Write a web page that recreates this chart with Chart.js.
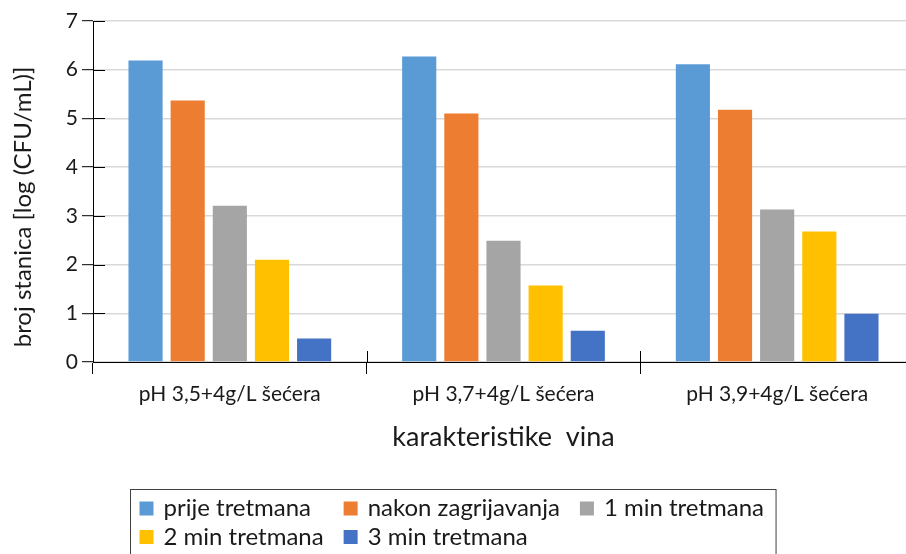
<!DOCTYPE html>
<html>
<head>
<meta charset="utf-8">
<script src="https://cdn.jsdelivr.net/npm/chart.js@4"></script>
<style>
  html, body { margin: 0; padding: 0; background: #fff; overflow: hidden; }
  #wrap { position: relative; width: 920px; height: 554px; }
</style>
</head>
<body>
<div id="wrap"><canvas id="chart"></canvas></div>
<script>
const categories = ["pH 3,5+4g/L šećera", "pH 3,7+4g/L šećera", "pH 3,9+4g/L šećera"];
const seriesNames = ["prije tretmana", "nakon zagrijavanja", "1 min tretmana", "2 min tretmana", "3 min tretmana"];
const prijeTretmana = [6.19, 6.27, 6.11];
const nakonZagrijavanja = [5.37, 5.10, 5.18];
const min1Tretmana = [3.21, 2.49, 3.13];
const min2Tretmana = [2.10, 1.57, 2.68];
const min3Tretmana = [0.48, 0.64, 0.99];
const yTicks = [0, 1, 2, 3, 4, 5, 6, 7];
const xTitle = "karakteristike  vina";
const yTitle = "broj stanica [log (CFU/mL)]";

const colors = ["#5B9BD5", "#ED7D31", "#A5A5A5", "#FFC000", "#4472C4"];
const values = [prijeTretmana, nakonZagrijavanja, min1Tretmana, min2Tretmana, min3Tretmana];
const FONT = "Lato";
const TEXT = "#1a1a1a";

// tick marks that cross the axis line (Excel style) + the y title
const crossTicks = {
  id: "crossTicks",
  afterDraw(chart) {
    const ctx = chart.ctx;
    const x = chart.scales.x, y = chart.scales.y;
    ctx.save();
    ctx.strokeStyle = "#000";
    ctx.lineWidth = 1;
    ctx.beginPath();
    y.ticks.forEach((t, i) => {
      const py = Math.round(y.getPixelForTick(i)) + 0.5;
      ctx.moveTo(y.right, py);
      ctx.lineTo(y.right + 12, py);
    });
    for (let i = 0; i <= categories.length; i++) {
      const px = Math.round(x.getPixelForValue(i - 0.5)) + 0.5;
      ctx.moveTo(px, x.top);
      ctx.lineTo(px, x.top - 11);
    }
    ctx.stroke();

    // the original title sits a bit below the middle of the axis
    ctx.translate(23, 207);
    ctx.rotate(-Math.PI / 2);
    ctx.font = "24px " + FONT;
    ctx.fillStyle = TEXT;
    ctx.textAlign = "center";
    ctx.textBaseline = "middle";
    ctx.fillText(yTitle, 0, 0);
    ctx.restore();
  }
};

// boxed legend, columns as wide as their widest item
const boxLegend = {
  id: "boxLegend",
  afterDraw(chart) {
    const ctx = chart.ctx;
    const perRow = 3, sq = 14, textGap = 10, colGap = 20;
    const padL = 9, padR = 12;
    ctx.save();
    ctx.font = "24px " + FONT;
    const ds = chart.data.datasets;
    const colW = [];
    ds.forEach((d, i) => {
      const w = sq + textGap + ctx.measureText(d.label).width;
      const c = i % perRow;
      colW[c] = Math.max(colW[c] || 0, w);
    });
    const total = padL + colW.reduce((a, b) => a + b, 0) + colGap * (perRow - 1) + padR;
    const left = Math.round(453 - total / 2) + 0.5;
    const top = 489.5;
    ctx.strokeStyle = "#404040";
    ctx.lineWidth = 1;
    ctx.strokeRect(left, top, total, 70);
    ctx.textBaseline = "middle";
    ds.forEach((d, i) => {
      const c = i % perRow, r = Math.floor(i / perRow);
      let x = left + padL;
      for (let k = 0; k < c; k++) x += colW[k] + colGap;
      const cy = top + 19 + r * 28.5;
      ctx.fillStyle = d.backgroundColor;
      ctx.fillRect(x, cy - 7, sq, sq);
      ctx.fillStyle = TEXT;
      ctx.fillText(d.label, x + sq + textGap, cy);
    });
    ctx.restore();
  }
};

new Chart(document.getElementById("chart"), {
  type: "bar",
  data: {
    labels: categories,
    datasets: seriesNames.map((name, i) => ({
      label: name,
      data: values[i],
      backgroundColor: colors[i],
      categoryPercentage: 0.77,
      barPercentage: 0.81
    }))
  },
  options: {
    responsive: true,
    maintainAspectRatio: false,
    animation: false,
    layout: { padding: { left: 12, right: 6, top: 21, bottom: 101 } },
    plugins: {
      legend: { display: false },
      tooltip: { enabled: false }
    },
    scales: {
      x: {
        offset: true,
        grid: { offset: true, drawOnChartArea: false, tickLength: 12, tickColor: "#000" },
        border: { color: "#000", width: 1 },
        ticks: { color: TEXT, font: { family: FONT, size: 21 }, padding: 8 },
        title: {
          display: true,
          text: xTitle,
          color: TEXT,
          font: { family: FONT, size: 27 },
          padding: { top: 14, bottom: 0 }
        },
        afterFit(scale) { scale.height = 91; }
      },
      y: {
        min: 0,
        max: 7,
        afterBuildTicks(scale) { scale.ticks = yTicks.map(v => ({ value: v })); },
        grid: { color: "#d9d9d9", lineWidth: 1.4, tickLength: 11, tickColor: "#000", tickWidth: 1 },
        border: { color: "#000", width: 1 },
        ticks: { color: TEXT, font: { family: FONT, size: 21 }, padding: 4 },
        title: { display: false },
        afterFit(scale) { scale.width = 81; }
      }
    }
  },
  plugins: [crossTicks, boxLegend]
});
</script>
</body>
</html>
